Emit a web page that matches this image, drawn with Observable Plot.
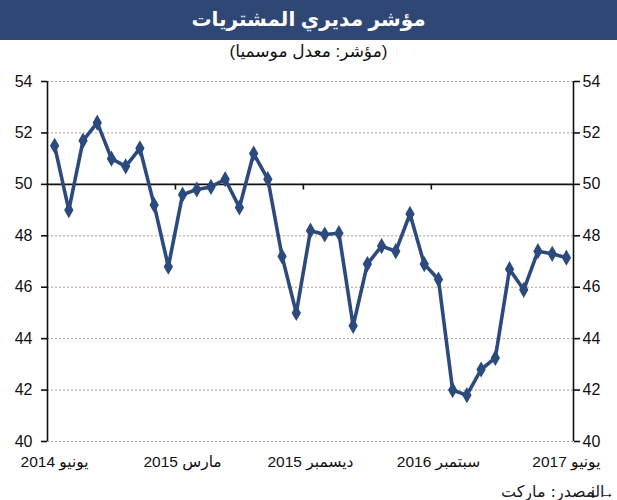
<!DOCTYPE html>
<html lang="ar">
<head>
<meta charset="utf-8">
<script src="https://cdn.jsdelivr.net/npm/d3@7"></script>
<script src="https://cdn.jsdelivr.net/npm/@observablehq/plot@0.6"></script>
<style>
  html, body { margin: 0; padding: 0; background: #fff; }
  body { width: 617px; height: 500px; position: relative; overflow: hidden;
         font-family: "Liberation Sans", "DejaVu Sans", Arial, sans-serif; }
  #titlebar { position: absolute; left: 0; top: 0; width: 617px; height: 40px;
              background: #2f4775; color: #fff; font-size: 20px; font-weight: bold;
              text-align: center; line-height: 38px; direction: rtl; }
  #subtitle { position: absolute; left: 0; top: 41px; width: 617px; text-align: center;
              font-size: 17px; color: #111; direction: rtl; }
  #chart { position: absolute; left: 0; top: 0; }
  .source-note text { direction: rtl; unicode-bidi: embed; font-family: "DejaVu Sans", sans-serif; }
</style>
</head>
<body>
<div id="chart"></div>
<div id="titlebar">مؤشر مديري المشتريات</div>
<div id="subtitle">(مؤشر: معدل موسميا)</div>
<script>
// Monthly PMI, June 2014 – June 2017 (seasonally adjusted)
const pmi = [
  51.5, 49.0, 51.7, 52.4, 51.0, 50.7, 51.4, 49.2, 46.8, 49.6,
  49.8, 49.9, 50.2, 49.1, 51.2, 50.2, 47.2, 45.0, 48.2, 48.05,
  48.1, 44.5, 46.9, 47.6, 47.4, 48.85, 46.9, 46.3, 42.0, 41.8,
  42.8, 43.25, 46.7, 45.9, 47.4, 47.3, 47.15
];

// Labelled months (index into the series) and their labels
const labelIndex = [0, 9, 18, 27, 36];
const labelText = ["يونيو 2014", "مارس 2015", "ديسمبر 2015", "سبتمبر 2016", "يونيو 2017"];

// Category boundaries that carry a tick mark on the 50 line
const boundaries = [8.5, 17.5, 26.5];

const yTicks = [40, 42, 44, 46, 48, 50, 52, 54];
const gridLevels = [40, 42, 44, 46, 48, 52, 54];

const sourceNote = "المصدر: ماركت";

const data = pmi.map((v, i) => ({i, v}));
const lineColor = "#2d4a7f";
const font = "'Liberation Sans', 'DejaVu Sans', Arial, sans-serif";

const chart = Plot.plot({
  width: 617,
  height: 500,
  marginTop: 81,
  marginBottom: 59,
  marginLeft: 47,
  marginRight: 44,
  style: {fontFamily: font, fontSize: "16px", color: "#111", background: "transparent"},
  x: {domain: [-0.5, pmi.length - 0.5], axis: null},
  y: {domain: [40, 54], axis: null},
  marks: [
    Plot.ruleY(gridLevels, {stroke: "#b49c90", strokeWidth: 1, strokeDasharray: "2,2"}),
    Plot.ruleY([50], {stroke: "#111", strokeWidth: 1.6}),
    Plot.ruleX(boundaries, {y1: 50, y2: 49.78, stroke: "#111", strokeWidth: 1.6}),
    Plot.ruleX([-0.5, pmi.length - 0.5], {y1: 40, y2: 54, stroke: "#111", strokeWidth: 1.6}),
    Plot.axisY({anchor: "left", ticks: yTicks, tickSize: 6, tickPadding: 9,
                stroke: "#111", strokeWidth: 1.6, fontSize: 16, fill: "#111"}),
    Plot.axisY({anchor: "right", ticks: yTicks, tickSize: 6, tickPadding: 3,
                stroke: "#111", strokeWidth: 1.6, fontSize: 16, fill: "#111"}),
    Plot.axisX({anchor: "bottom", ticks: labelIndex, tickSize: 0, tickPadding: 14,
                tickFormat: d => labelText[labelIndex.indexOf(d)], fontSize: 15.5, fill: "#111"}),
    Plot.line(data, {x: "i", y: "v", stroke: lineColor, strokeWidth: 3.6, strokeLinejoin: "round"}),
    Plot.dot(data, {x: "i", y: "v", symbol: "diamond", r: 4, fill: lineColor, stroke: lineColor}),
    // source note under the right end of the time axis
    Plot.text([sourceNote], {frameAnchor: "bottom-right", dx: 31, dy: 50, textAnchor: "start",
                             fontSize: 16, fill: "#1a1a2a", lineAnchor: "middle",
                             className: "source-note"})
  ]
});
document.getElementById("chart").appendChild(chart);
</script>
</body>
</html>
